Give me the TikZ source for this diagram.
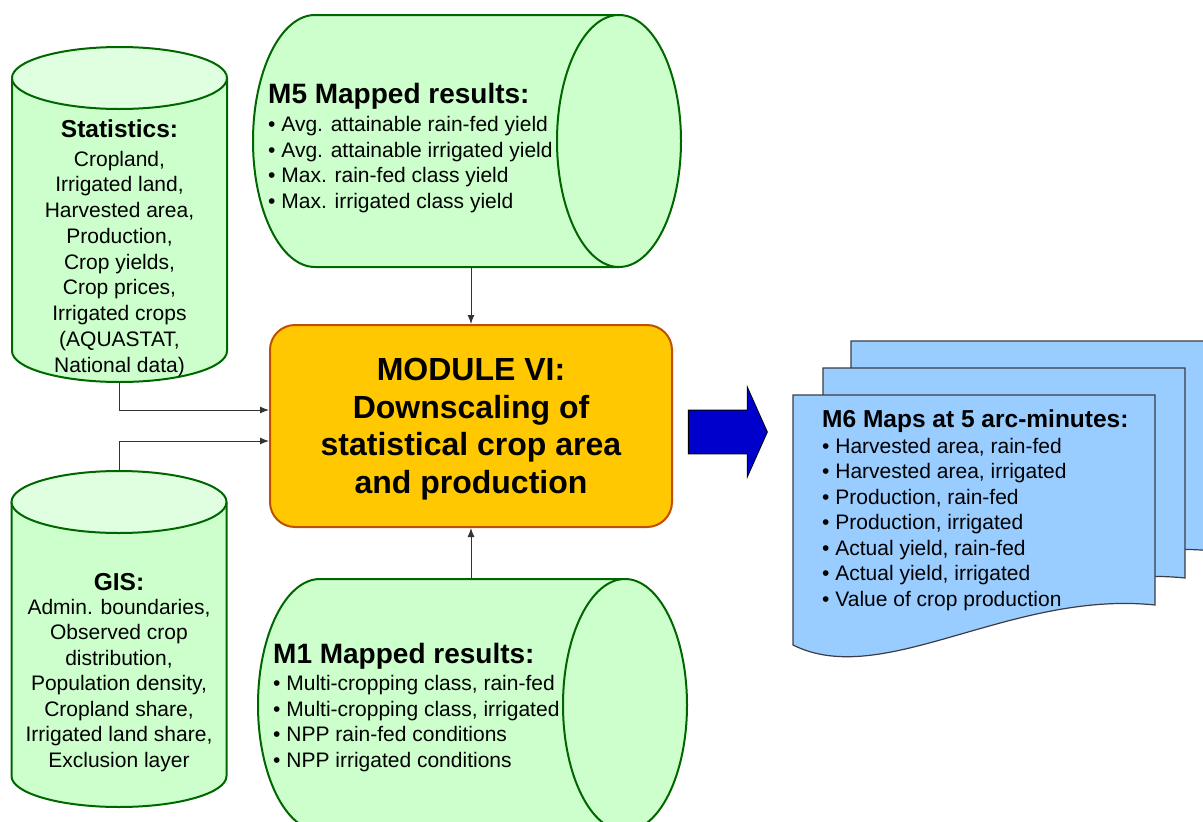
\documentclass[tikz,border=0pt]{standalone}
\usepackage{fontspec}
\setmainfont{Liberation Sans}
\usetikzlibrary{shapes.arrows,arrows.meta}
\definecolor{cylfill}{RGB}{204,255,204}
\definecolor{cyltop}{RGB}{224,255,224}
\definecolor{cylline}{RGB}{0,102,0}
\definecolor{modfill}{RGB}{255,200,0}
\definecolor{modline}{RGB}{190,80,0}
\definecolor{arrfill}{RGB}{0,0,204}
\definecolor{docfill}{RGB}{153,204,255}
\definecolor{docline}{RGB}{60,60,70}
\tikzset{
  cylbody/.style={draw=cylline, line width=2pt, fill=cylfill},
  cylcap/.style={draw=cylline, line width=2pt, fill=cyltop},
  datatext/.style={align=center, inner sep=0pt, font=\fontsize{21}{25.75}\selectfont},
  listtext/.style={align=left, inner sep=0pt, font=\fontsize{21}{25.5}\selectfont},
  modbox/.style={draw=modline, line width=2pt, fill=modfill, rounded corners=25pt,
    minimum width=402pt, minimum height=202pt, align=center, text depth=0pt,
    font=\fontsize{32}{37.5}\selectfont\bfseries},
  fatarrow/.style={single arrow, draw=black, fill=arrfill, line width=0.8pt,
    minimum height=79pt, inner xsep=0pt, inner ysep=21.5pt,
    single arrow head extend=23.5pt, single arrow tip angle=132},
  docsheet/.style={draw=docline, line width=1.2pt, fill=docfill},
  link/.style={draw=black!80, line width=1pt, -{Latex[length=9pt,width=7pt]}},
}
\begin{document}
\begin{tikzpicture}[x=1pt,y=-1pt]
  \useasboundingbox (0,0) rectangle (1203,822);
  % data sources, standing cylinders
  \foreach \cx/\ty/\by in {119.5/78/351, 119/502/776} {
    \filldraw[cylbody] ({\cx-107.5},\ty) -- ({\cx-107.5},\by)
      arc[start angle=180, end angle=0, x radius=107.5, y radius=31] -- ({\cx+107.5},\ty);
    \filldraw[cylcap] (\cx,\ty) ellipse[x radius=107.5, y radius=31];
  }
  % mapped results, lying cylinders
  \foreach \lx/\rx/\cy in {315/619/141, 320/625/705} {
    \filldraw[cylbody] (\rx,{\cy-126}) -- (\lx,{\cy-126})
      arc[start angle=270, end angle=90, x radius=62, y radius=126] -- (\rx,{\cy+126});
    \filldraw[cylbody] (\rx,\cy) ellipse[x radius=62, y radius=126];
  }
  \coordinate (statB) at (119.5,382);
  \coordinate (gisT) at (119,471);
  \coordinate (m5B) at (471,267);
  \coordinate (m1T) at (471,579);
  \node[datatext, anchor=base] (stat) at (119.5,372) {{\bfseries\fontsize{24.5}{25.5}\selectfont Statistics:}\\[2.5pt]
    Cropland,\\Irrigated land,\\Harvested area,\\Production,\\Crop yields,\\Crop prices,\\Irrigated crops\\(AQUASTAT,\\National data)};
  \node[datatext, anchor=base, font=\fontsize{21}{25.5}\selectfont] (gis) at (119,767) {{\bfseries\fontsize{24.5}{25.5}\selectfont GIS:}\\[-1.5pt]
    Admin. boundaries,\\Observed crop\\distribution,\\Population density,\\Cropland share,\\Irrigated land share,\\Exclusion layer};
  \node[listtext, anchor=base west] (m5) at (268,208) {{\bfseries\fontsize{28}{25.5}\selectfont M5 Mapped results:}\\[2.5pt]
    • Avg. attainable rain-fed yield\\• Avg. attainable irrigated yield\\• Max. rain-fed class yield\\• Max. irrigated class yield};
  \node[listtext, anchor=base west] (m1) at (273,767) {{\bfseries\fontsize{28}{25.5}\selectfont M1 Mapped results:}\\[2pt]
    • Multi-cropping class, rain-fed\\• Multi-cropping class, irrigated\\• NPP rain-fed conditions\\• NPP irrigated conditions};
  % module
  \node[modbox] (mod) at (471,426) {MODULE VI:\\Downscaling of\\statistical crop area\\and production};
  \draw[link] (m5B) -- (m5B |- mod.north);
  \draw[link] (m1T) -- (m1T |- mod.south);
  \draw[link] (statB) |- ([yshift=16pt]mod.west);
  \draw[link] (gisT) |- ([yshift=-15pt]mod.west);
  % output maps
  \node[fatarrow] (fat) at (723,432) {};
  \foreach \px/\py in {851/341, 823/368, 793/395}
    \draw[docsheet] (\px,\py) -- ({\px+362},\py) -- ({\px+362},{\py+210})
      .. controls ({\px+217},{\py+195}) and ({\px+90},{\py+295}) .. (\px,{\py+250}) -- cycle;
  \node[listtext, anchor=base west] (maps) at (822,606) {{\bfseries\fontsize{24.5}{25.5}\selectfont M6 Maps at 5 arc-minutes:}\\[0.5pt]
    • Harvested area, rain-fed\\• Harvested area, irrigated\\• Production, rain-fed\\• Production, irrigated\\• Actual yield, rain-fed\\• Actual yield, irrigated\\• Value of crop production};
\end{tikzpicture}
\end{document}
